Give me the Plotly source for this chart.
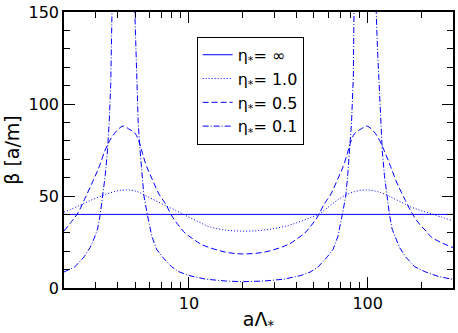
"""beta vs a*Lambda for several eta values"""
import plotly.graph_objects as go

# eta = infinity (flat)
X_INF = [2, 300]
Y_INF = [40, 40]

# eta = 1.0
X_ETA10 = [2.0, 2.4, 2.8, 3.3, 3.8, 4.4, 5.1, 5.7, 6.5, 7.4, 8.5, 9.6, 11.4, 13, 16, 20,
           25, 30, 36, 41, 48, 54, 63, 72, 84, 98, 117, 148, 180, 227, 300]
Y_ETA10 = [41.2, 44.5, 47.5, 50.3, 52.3, 53.3, 52.5, 50.3, 47.5, 44.8, 42.0, 39.4, 35.8, 33.3,
           31.5, 30.9, 31.3, 32.3, 34.0, 35.8, 38.3, 40.5, 45.5, 49.5, 52.3, 53.3, 52.0, 47.5,
           43.5, 40.3, 36.5]

# eta = 0.5
X_ETA05 = [2.0, 2.2, 2.4, 2.6, 2.9, 3.15, 3.4, 3.7, 4.0, 4.28, 4.6, 5.0, 5.3, 5.5, 5.8, 6.24,
           6.8, 7.4, 8.1, 9.0, 9.6, 10.5, 11.5, 13, 16, 20, 26.4, 32.5, 36.8, 40.3, 44, 47,
           52.2, 57.2, 62.2, 67.8, 72.9, 76.9, 79.8, 84.6, 92, 98.8, 105.8, 114, 124.4,
           134.3, 145.9, 162.7, 176, 192, 211.5, 227, 260, 300]
Y_ETA05 = [31, 36, 41, 48, 58, 66, 75, 82, 86, 88, 86.5, 84, 78.5, 73, 66, 59,
           51, 45.7, 38.5, 32.5, 29.5, 26.8, 24.2, 22, 19.5, 18.5, 19.5, 22, 24.2, 26.8, 29.5, 32.5,
           38.5, 45.7, 51, 59, 66, 73, 78.5, 84, 86.5, 88, 86, 82, 74,
           66, 57, 47.5, 41, 35.5, 31, 27.7, 24.5, 22]

# eta = 0.1 (resonances leave the frame)
X_ETA01 = [2.0, 2.3, 2.59, 2.8, 2.95, 3.08, 3.19, 3.3, 3.4, 3.5, 3.58, 3.65, 3.72, 3.78, 3.95,
           4.32, 4.75, 4.98, 5.08, 5.2, 5.33, 5.45, 5.6, 5.85, 6.2, 6.6, 7.1, 8.0, 8.8, 10,
           12.4, 16, 20, 26.4, 34, 42.2, 48, 52.8, 59.4, 64, 68.1, 72.1, 75.4, 77.4, 79.2,
           81.2, 83.1, 84.7, 89, 97.7, 107, 111.6, 113.4, 115.6, 117.9, 120.6, 124.1, 127.9,
           132.3, 137, 143, 150.7, 163, 183.5, 211, 250, 300]
Y_ETA01 = [8.7, 11.5, 16.9, 22, 27, 32, 40, 50, 61, 74.5, 90, 110, 130, 150, 300,
           800, 300, 150, 115, 90, 74.5, 62, 50, 40, 28, 21, 16.9, 11.5, 8.8, 6.8,
           4.8, 3.8, 3.4, 3.8, 4.8, 6.8, 8.8, 11.5, 16.9, 21, 28, 40, 50, 62, 74.5,
           90, 115, 150, 300, 800, 300, 150, 130, 110, 90, 74.5, 61, 50,
           40, 32, 27, 22, 16.9, 11.5, 8.7, 6.2, 4.7]

BLUE = "#0000ff"
FONT = "DejaVu Sans, Liberation Sans, Arial, sans-serif"

fig = go.Figure()
fig.add_trace(go.Scatter(x=X_INF, y=Y_INF, mode="lines", name="η<sub>*</sub>= ∞",
                         line=dict(color=BLUE, width=1)))
fig.add_trace(go.Scatter(x=X_ETA10, y=Y_ETA10, mode="lines", name="η<sub>*</sub>= 1.0",
                         line=dict(color=BLUE, width=1, dash="1px,2px", shape="spline")))
fig.add_trace(go.Scatter(x=X_ETA05, y=Y_ETA05, mode="lines", name="η<sub>*</sub>= 0.5",
                         line=dict(color=BLUE, width=1, dash="6px,3px", shape="spline")))
fig.add_trace(go.Scatter(x=X_ETA01, y=Y_ETA01, mode="lines", name="η<sub>*</sub>= 0.1",
                         line=dict(color=BLUE, width=1, dash="6px,2px,1px,2px")))

fig.update_layout(
    width=458, height=333,
    margin=dict(l=64, r=3, t=10, b=45),
    paper_bgcolor="white", plot_bgcolor="white",
    font=dict(family=FONT, size=16, color="black"),
    showlegend=True,
    legend=dict(x=0.341, y=0.91, xanchor="left", yanchor="top",
                bordercolor="black", borderwidth=1, bgcolor="white",
                font=dict(size=16), tracegroupgap=0, itemwidth=30),
    xaxis=dict(
        type="log", range=[0.30103, 2.4771],
        tickvals=[10, 100], ticktext=["10", "100"],
        ticks="inside", ticklen=11, tickcolor="black", tickwidth=1,
        minor=dict(tickvals=[3, 4, 5, 6, 7, 8, 9, 20, 30, 40, 50, 60, 70, 80, 90, 200, 300],
                   ticks="inside", ticklen=6, tickcolor="black", tickwidth=1),
        showline=True, linecolor="black", linewidth=1.5, mirror="ticks",
        showgrid=False, zeroline=False,
        title=dict(text="aΛ<sub>*</sub>", standoff=2),
    ),
    yaxis=dict(
        range=[0, 150],
        tickvals=[0, 50, 100, 150],
        ticks="inside", ticklen=11, tickcolor="black", tickwidth=1,
        minor=dict(dtick=10, ticks="inside", ticklen=6, tickcolor="black", tickwidth=1),
        showline=True, linecolor="black", linewidth=1.5, mirror="ticks",
        showgrid=False, zeroline=False,
        ticklabeloverflow="allow",
        title=dict(text="β [a/m]", standoff=4),
    ),
)

# drop the default 8px page margin so the figure fills the window
fig.write_html("out.html", config={"displayModeBar": False},
               post_script="document.body.style.margin='0';")
